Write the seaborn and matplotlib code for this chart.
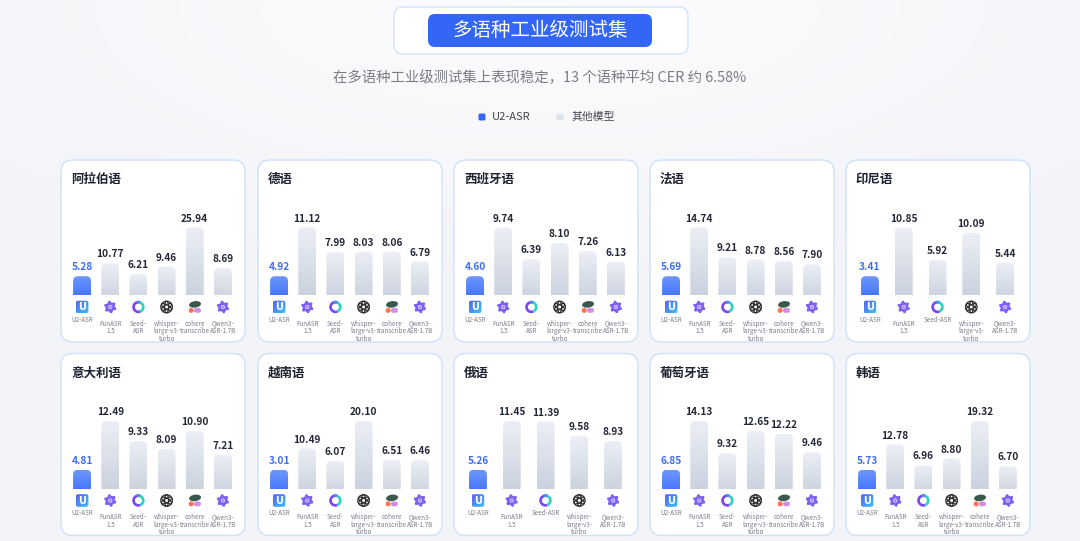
import numpy as np
import pandas as pd
import matplotlib
matplotlib.use("Agg")
import matplotlib.pyplot as plt
import seaborn as sns
from matplotlib.patches import FancyBboxPatch, Circle, Ellipse, Wedge, Polygon
from matplotlib.colors import LinearSegmentedColormap

sns.set_theme(style="white")
plt.rcParams['font.family'] = ['Noto Sans CJK SC', 'DejaVu Sans']

# ---------------- data ----------------
languages = ["阿拉伯语", "德语", "西班牙语", "法语", "印尼语",
             "意大利语", "越南语", "俄语", "葡萄牙语", "韩语"]
models = ["U2-ASR", "FunASR 1.5", "Seed-ASR", "whisper-large-v3-turbo",
          "cohere transcribe", "Qwen3-ASR-1.7B"]
nan = np.nan
cer_arabic     = [5.28, 10.77, 6.21, 9.46, 25.94, 8.69]
cer_german     = [4.92, 11.12, 7.99, 8.03, 8.06, 6.79]
cer_spanish    = [4.60, 9.74, 6.39, 8.10, 7.26, 6.13]
cer_french     = [5.69, 14.74, 9.21, 8.78, 8.56, 7.90]
cer_indonesian = [3.41, 10.85, 5.92, 10.09, nan, 5.44]
cer_italian    = [4.81, 12.49, 9.33, 8.09, 10.90, 7.21]
cer_vietnamese = [3.01, 10.49, 6.07, 20.10, 6.51, 6.46]
cer_russian    = [5.26, 11.45, 11.39, 9.58, nan, 8.93]
cer_portuguese = [6.85, 14.13, 9.32, 12.65, 12.22, 9.46]
cer_korean     = [5.73, 12.78, 6.96, 8.80, 19.32, 6.70]
all_cer = [cer_arabic, cer_german, cer_spanish, cer_french, cer_indonesian,
           cer_italian, cer_vietnamese, cer_russian, cer_portuguese, cer_korean]

labels6 = {"U2-ASR": "U2-ASR", "FunASR 1.5": "FunASR\n1.5", "Seed-ASR": "Seed-\nASR",
           "whisper-large-v3-turbo": "whisper-\nlarge-v3-\nturbo",
           "cohere transcribe": "cohere\ntranscribe", "Qwen3-ASR-1.7B": "Qwen3-\nASR-1.7B"}
labels5 = dict(labels6, **{"Seed-ASR": "Seed-ASR"})
icon_kind = {"U2-ASR": "u2", "FunASR 1.5": "qwen", "Seed-ASR": "seed",
             "whisper-large-v3-turbo": "whisper", "cohere transcribe": "cohere",
             "Qwen3-ASR-1.7B": "qwen"}

title = "多语种工业级测试集"
subtitle = "在多语种工业级测试集上表现稳定，13 个语种平均 CER 约 6.58%"

# ---------------- style ----------------
W, H = 1080, 541
BLUE = "#3366f6"
fig = plt.figure(figsize=(W / 100, H / 100), dpi=100, facecolor="#f5f6fa")
bg = fig.add_axes([0, 0, 1, 1])
bg.set_axis_off()

yy, xx = np.mgrid[0:1:60j, 0:1:120j]
glow = np.exp(-(((xx - 0.5) / 0.45) ** 2 + ((yy - 0.0) / 0.35) ** 2))
bg_cmap = LinearSegmentedColormap.from_list("bgc", ["#f3f4f8", "#fbfbfd"])
bg.imshow(glow, extent=[0, W, H, 0], cmap=bg_cmap, aspect="auto", zorder=0,
          interpolation="bilinear", vmin=0, vmax=1)
bg.set_xlim(0, W)
bg.set_ylim(H, 0)

# header
bg.add_patch(FancyBboxPatch((394, 7), 294, 47, boxstyle="round,pad=0,rounding_size=9",
                            fc="white", ec="#d3e2fb", lw=1.0, zorder=2))
bg.add_patch(FancyBboxPatch((428, 14), 224, 33, boxstyle="round,pad=0,rounding_size=7",
                            fc=BLUE, ec="none", zorder=3))
bg.text(540, 31, title, ha="center", va="center", color="white", fontsize=14,
        fontweight="medium", zorder=4)
bg.text(540, 78, subtitle, ha="center", va="center", color="#7b7e86", fontsize=10.4, zorder=4)

# legend
bg.add_patch(FancyBboxPatch((478.5, 113.5), 7, 7, boxstyle="round,pad=0,rounding_size=1.5",
                            fc=BLUE, ec="none", zorder=3))
bg.text(491.5, 117.3, "U2-ASR", ha="left", va="center", color="#44474f", fontsize=8, zorder=4)
bg.add_patch(FancyBboxPatch((556.5, 113.5), 7, 7, boxstyle="round,pad=0,rounding_size=1.5",
                            fc="#dfe3ea", ec="none", zorder=3))
bg.text(571.5, 117.3, "其他模型", ha="left", va="center", color="#44474f", fontsize=7.8, zorder=4)

gray_cmap = LinearSegmentedColormap.from_list("gray", ["#c6cddb", "#eceff5"])
blue_cmap = LinearSegmentedColormap.from_list("blue", ["#3366ff", "#6e97fc"])
u2_cmap = LinearSegmentedColormap.from_list("u2", ["#5b5ff6", "#39c4f4"])


def draw_icon(kind, cx, cy):
    z = 5
    if kind == "u2":
        box = FancyBboxPatch((cx - 6.3, cy - 6.3), 12.6, 12.6,
                             boxstyle="round,pad=0,rounding_size=2.2",
                             fc="none", ec="none", zorder=z)
        bg.add_patch(box)
        g = np.add.outer(np.linspace(0, 1, 32), np.linspace(0, 1, 32)) / 2
        im = bg.imshow(g, extent=[cx - 6.3, cx + 6.3, cy + 6.3, cy - 6.3], cmap=u2_cmap,
                       aspect="auto", zorder=z)
        im.set_clip_path(box)
        bg.text(cx, cy + 0.3, "U", ha="center", va="center", color="white",
                fontsize=7, fontweight="bold", family="DejaVu Sans", zorder=z + 1)
    elif kind == "qwen":
        for rot in (0, 60):
            ang = np.deg2rad(np.array([90, 210, 330]) + rot + 10)
            pts = np.c_[cx + 5.8 * np.cos(ang), cy - 5.8 * np.sin(ang)]
            bg.add_patch(Polygon(pts, closed=True, fc="none", ec="#7b5cf5", lw=1.3, zorder=z))
        bg.add_patch(Circle((cx, cy), 1.6, fc="#a58cf9", ec="none", zorder=z))
    elif kind == "seed":
        bg.add_patch(Wedge((cx, cy), 6.2, 70, 290, width=2.7, fc="#7a46f6", ec="none", zorder=z))
        bg.add_patch(Wedge((cx, cy), 6.2, -70, 70, width=2.7, fc="#2ed3bf", ec="none", zorder=z))
        bg.add_patch(Wedge((cx, cy), 6.2, 250, 290, width=2.7, fc="#4a8cf0", ec="none", zorder=z))
    elif kind == "whisper":
        for a in (0, 60, 120):
            bg.add_patch(Ellipse((cx, cy), 4.2, 11.5, angle=a, fc="none", ec="#303030",
                                 lw=0.9, zorder=z))
        bg.add_patch(Circle((cx, cy), 5.8, fc="none", ec="#303030", lw=0.9, zorder=z))
    elif kind == "cohere":
        bg.add_patch(Ellipse((cx + 0.3, cy - 2.6), 12, 6.5, angle=-8, fc="#39594d", ec="none",
                             zorder=z))
        bg.add_patch(Circle((cx - 3.6, cy + 3.4), 2.5, fc="#ff6f52", ec="none", zorder=z))
        bg.add_patch(FancyBboxPatch((cx - 0.8, cy + 1.0), 7, 4.8,
                                    boxstyle="round,pad=0,rounding_size=2.4",
                                    fc="#d08fe3", ec="none", zorder=z))


panel_x = [61, 258, 454, 650, 846]
panel_y = [160, 353.5]
PW, PH = 184, 182
AX_H = 90.0

for k, (lang, vals) in enumerate(zip(languages, all_cer)):
    r, c = divmod(k, 5)
    px, py = panel_x[c], panel_y[r]
    bg.add_patch(FancyBboxPatch((px, py), PW, PH, boxstyle="round,pad=0,rounding_size=12",
                                fc="white", ec="#cfe0fb", lw=1.0, zorder=1))
    bg.text(px + 10, py + 19.5, lang, ha="left", va="center", fontsize=9,
            fontweight="bold", color="#1f2330", zorder=4)

    df = pd.DataFrame({"model": models, "cer": vals}).dropna()
    n = len(df)
    slot = 169.0 / n
    base_y = py + 135.2
    ax = fig.add_axes([(px + 7) / W, 1 - base_y / H, 169 / W, AX_H / H])
    pal = {m: (BLUE if m == "U2-ASR" else "#dfe3ea") for m in df["model"]}
    sns.barplot(data=df, x="model", y="cer", hue="model", palette=pal, legend=False,
                width=18.0 / slot, ax=ax, saturation=1)
    vmin, vmax = df["cer"].min(), df["cer"].max()
    s = (vmax - vmin) / 48.7          # data units per pixel
    lower = vmin - 19.0 * s
    upper = lower + AX_H * s
    rad = 5.0 / slot
    asp = s * slot
    for p, (m, v) in zip(list(ax.patches), zip(df["model"], df["cer"])):
        x0, w = p.get_x(), p.get_width()
        p.remove()
        fb = FancyBboxPatch((x0, lower - 10 * s), w, v - lower + 10 * s,
                            boxstyle=f"round,pad=0,rounding_size={rad}",
                            mutation_aspect=asp, fc="none", ec="none", zorder=2)
        ax.add_patch(fb)
        g = np.linspace(0, 1, 128).reshape(-1, 1)
        im = ax.imshow(g, extent=[x0, x0 + w, lower - 10 * s, v], origin="lower",
                       cmap=blue_cmap if m == "U2-ASR" else gray_cmap,
                       aspect="auto", zorder=2)
        im.set_clip_path(fb)
        ax.annotate(f"{v:.2f}", (x0 + w / 2, v), xytext=(0, 4.2), textcoords="offset points",
                    ha="center", va="baseline", fontsize=7.3, fontweight="bold",
                    color="#3d6ef5" if m == "U2-ASR" else "#232838")
    ax.set_xlim(-0.5, n - 0.5)
    ax.set_ylim(lower, upper)
    ax.set_axis_off()

    # icons and model names under the bars
    inv = bg.transData.inverted()
    labmap = labels6 if n == 6 else labels5
    for i, m in enumerate(df["model"]):
        dx, _ = inv.transform(ax.transData.transform((i, lower)))
        cy = base_y + 11.8
        draw_icon(icon_kind[m], dx, cy)
        bg.text(dx, cy + 12.5, labmap[m], ha="center",
                va="center" if "\n" not in labmap[m] else "top",
                fontsize=4.5, color="#7a7e8c", linespacing=0.95, zorder=4)

fig.savefig("out.png", dpi=100, facecolor=fig.get_facecolor())
